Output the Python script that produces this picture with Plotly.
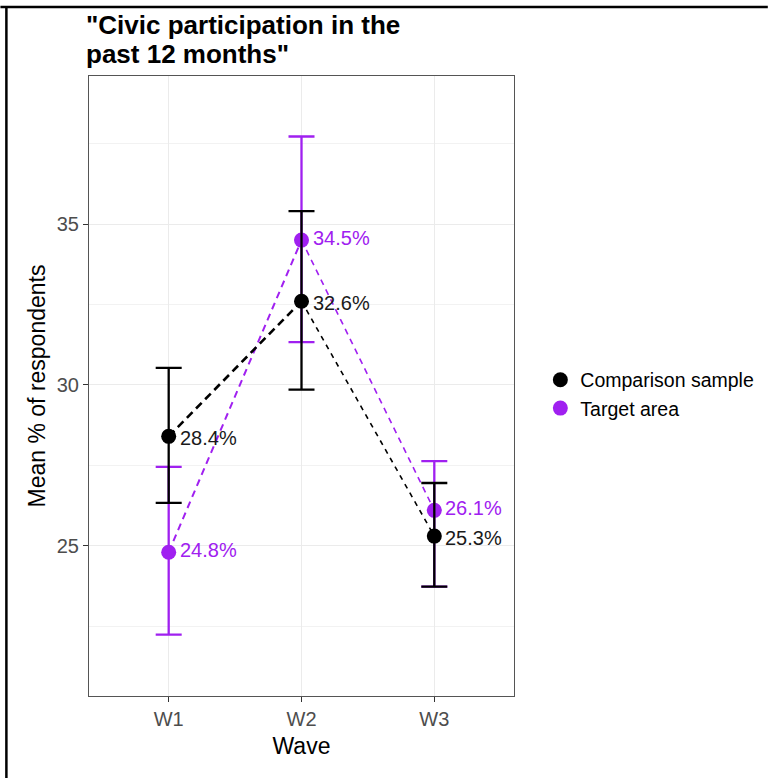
import plotly.graph_objects as go

waves = ["W1", "W2", "W3"]
series_names = ["Comparison sample", "Target area"]

comp_mean = [28.4, 32.6, 25.3]
comp_upper = [30.53, 35.40, 26.95]
comp_lower = [26.33, 29.85, 23.73]

targ_mean = [24.8, 34.5, 26.1]
targ_upper = [27.45, 37.72, 27.63]
targ_lower = [22.24, 31.33, 23.73]

comp_labels = ["28.4%", "32.6%", "25.3%"]
targ_labels = ["24.8%", "34.5%", "26.1%"]

title_lines = ['"Civic participation in the', 'past 12 months"']

BLACK = "#000000"
PURPLE = "#A020F0"
FONT = "Liberation Sans, Arial, sans-serif"

fig = go.Figure()


def add_series(name, mean, upper, lower, color, seg_styles):
    # dashed connecting segments
    for i, (w, d) in enumerate(seg_styles):
        fig.add_trace(go.Scatter(
            x=waves[i:i + 2], y=mean[i:i + 2], mode="lines",
            line=dict(color=color, width=w, dash=d),
            showlegend=False, hoverinfo="skip"))
    fig.add_trace(go.Scatter(
        x=waves, y=mean, mode="markers", name=name,
        marker=dict(color=color, size=15),
        error_y=dict(type="data", symmetric=False,
                     array=[u - m for u, m in zip(upper, mean)],
                     arrayminus=[m - l for m, l in zip(mean, lower)],
                     color=color, thickness=2.3, width=13),
        showlegend=False))


# target first so comparison is drawn on top
add_series(series_names[1], targ_mean, targ_upper, targ_lower, PURPLE,
           [(2, "7px,5px"), (1.6, "6px,5px")])
add_series(series_names[0], comp_mean, comp_upper, comp_lower, BLACK,
           [(2.6, "8px,5px"), (1.6, "5px,5px")])

# legend entries
for name, color in zip(series_names, [BLACK, PURPLE]):
    fig.add_trace(go.Scatter(x=[None], y=[None], mode="markers", name=name,
                             marker=dict(color=color, size=15)))

annotations = []
for lab, x, y in zip(comp_labels, waves, comp_mean):
    annotations.append(dict(x=x, y=y, text=lab, showarrow=False, xanchor="left",
                            yanchor="middle", xshift=9, yshift=-2,
                            font=dict(family=FONT, size=20, color="#1A1A1A")))
for lab, x, y in zip(targ_labels, waves, targ_mean):
    annotations.append(dict(x=x, y=y, text=lab, showarrow=False, xanchor="left",
                            yanchor="middle", xshift=9, yshift=2,
                            font=dict(family=FONT, size=20, color=PURPLE)))

# title (two lines)
L, R, T, B = 89, 255, 76, 82
W, H = 771, 778
pw, ph = W - L - R, H - T - B
for i, line in enumerate(title_lines):
    ypx = 25 + 29 * i
    annotations.append(dict(xref="paper", yref="paper",
                            x=(84 - L) / pw, y=(H - B - ypx) / ph,
                            text="<b>" + line + "</b>", showarrow=False,
                            xanchor="left", yanchor="middle",
                            font=dict(family=FONT, size=26, color="#000000")))

shapes = [
    dict(type="line", xref="paper", yref="paper",
         x0=(0 - L) / pw, x1=(W - L) / pw,
         y0=(H - B - 7) / ph, y1=(H - B - 7) / ph,
         line=dict(color="black", width=2.5)),
    dict(type="line", xref="paper", yref="paper",
         x0=(6 - L) / pw, x1=(6 - L) / pw,
         y0=(H - B - 7) / ph, y1=(H - B - H) / ph,
         line=dict(color="black", width=2.5)),
]

fig.update_layout(
    width=W, height=H,
    margin=dict(l=L, r=R, t=T, b=B),
    paper_bgcolor="white", plot_bgcolor="white",
    font=dict(family=FONT),
    annotations=annotations,
    shapes=shapes,
    showlegend=True,
    legend=dict(x=1.062, y=0.487, xanchor="left", yanchor="middle",
                font=dict(family=FONT, size=19.5, color="#000000"),
                bgcolor="rgba(0,0,0,0)", tracegroupgap=0, itemwidth=30),
    xaxis=dict(
        type="category", categoryorder="array", categoryarray=waves,
        range=[-0.6, 2.6],
        showgrid=True, gridcolor="#EBEBEB", gridwidth=1,
        showline=True, mirror=True, linecolor="#555555", linewidth=1.2,
        ticks="outside", ticklen=5, tickcolor="#333333",
        tickfont=dict(family=FONT, size=20, color="#4D4D4D"),
        title=dict(text="Wave", font=dict(family=FONT, size=23, color="#000000"),
                   standoff=8),
        zeroline=False),
    yaxis=dict(
        range=[20.33, 39.6],
        tickvals=[25, 30, 35],
        showgrid=True, gridcolor="#EBEBEB", gridwidth=1,
        minor=dict(tickvals=[22.5, 27.5, 32.5, 37.5], showgrid=True,
                   gridcolor="#F2F2F2", gridwidth=0.8),
        showline=True, mirror=True, linecolor="#555555", linewidth=1.2,
        ticks="outside", ticklen=5, tickcolor="#333333",
        tickfont=dict(family=FONT, size=20, color="#4D4D4D"),
        title=dict(text="Mean % of respondents",
                   font=dict(family=FONT, size=23, color="#000000"), standoff=4),
        zeroline=False),
)

fig.write_html("out.html", config={"displayModeBar": False},
               post_script="document.body.style.margin='0';document.body.style.overflow='hidden';")
